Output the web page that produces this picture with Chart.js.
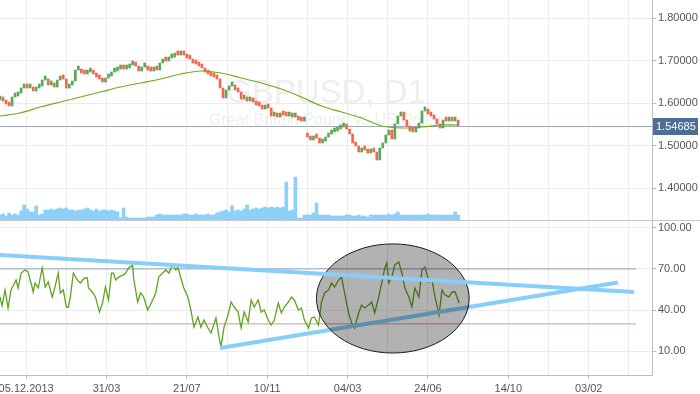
<!DOCTYPE html>
<html><head><meta charset="utf-8">
<script src="https://cdn.jsdelivr.net/npm/chart.js@4/dist/chart.umd.min.js"></script>
<style>
html,body{margin:0;padding:0;background:#fff;width:700px;height:394px;overflow:hidden}
#a{position:absolute;left:0;top:0}
#b{position:absolute;left:0;top:220px}
</style></head><body>
<canvas id="a" width="700" height="220"></canvas>
<canvas id="b" width="700" height="174"></canvas>
<script>
// ---------- data ----------
const symbol = 'GBPUSD, D1';
const description = 'Great Britain Pound vs US Dollar';
const tickDays = [26,106,186,266,346,426,506,586];
const tickLabels = ['05.12.2013','31/03','21/07','10/11','04/03','24/06','14/10','03/02'];
const gridDays = [26,66,106,146,186,226,266,306,346,386,426,466,506,546,586,626];
const priceTicks = [1.4,1.5,1.6,1.7,1.8];
const rsiTicks = [10,40,70,100];
const rsiLevels = [70,30];

// closes, one candle per 3 trading days
const closes = [
1.6071,1.6047,1.5976,1.5929,1.6141,1.6165,1.6235,1.6353,1.6400,1.6353,
1.6376,1.6282,1.6353,1.6400,1.6541,1.6565,1.6424,1.6447,1.6376,1.6541,
1.6635,1.6565,1.6353,1.6424,1.6518,1.6776,1.6800,1.6706,1.6682,1.6729,
1.6753,1.6682,1.6612,1.6565,1.6494,1.6588,1.6635,1.6729,1.6753,1.6800,
1.6824,1.6800,1.6824,1.6894,1.6918,1.6871,1.6753,1.6847,1.6871,1.6776,
1.6753,1.6800,1.6776,1.6941,1.7012,1.6988,1.7059,1.7082,1.7153,1.7129,
1.7153,1.7129,1.7059,1.7035,1.6941,1.6918,1.6871,1.6824,1.6729,1.6682,
1.6635,1.6612,1.6565,1.6353,1.6118,1.6306,1.6400,1.6424,1.6306,1.6259,
1.6094,1.6118,1.6047,1.6071,1.6024,1.5953,1.5929,1.5859,1.5906,1.5882,
1.5694,1.5718,1.5671,1.5741,1.5718,1.5694,1.5741,1.5671,1.5671,1.5600,
1.5576,1.5576,1.5200,1.5129,1.5200,1.5176,1.5059,1.5106,1.5200,1.5271,
1.5318,1.5341,1.5388,1.5435,1.5506,1.5388,1.5271,1.5059,1.4988,1.4847,
1.4918,1.4894,1.4824,1.4894,1.4847,1.4659,1.4941,1.5059,1.5247,1.5365,
1.5153,1.5506,1.5694,1.5788,1.5600,1.5459,1.5341,1.5318,1.5412,1.5529,
1.5812,1.5859,1.5741,1.5694,1.5624,1.5506,1.5412,1.5600,1.5576,1.5624,
1.5576,1.5600,1.54685];
const openOverrides = {102: 1.5224};
const volumes = [
5,6,4,7,5,6,5,9,15,11,8,8,14,5,6,10,10,11,10,11,
12,11,12,10,10,9,10,10,11,12,10,9,11,9,10,10,9,10,9,8,
2,12,3,2,2,2,2,2,2,3,3,3,5,6,5,5,5,5,5,5,
5,6,6,5,5,6,5,5,5,6,5,5,7,8,9,10,8,14,9,10,
9,11,15,10,11,12,11,12,13,12,13,12,13,12,13,38,9,10,43,2,
2,5,5,5,7,17,5,5,5,5,4,4,4,4,4,5,5,4,4,5,
4,4,3,5,5,5,5,5,5,6,5,6,8,5,5,5,5,5,5,5,
5,5,6,5,5,5,5,5,5,5,5,8,5];
const maDays = [0,20,40,60,80,100,120,140,160,180,200,220,240,260,280,300,320,340,360,380,400,420,440,456];
const maValues = [1.5694,1.5765,1.5906,1.6024,1.6141,1.6259,1.6376,1.6471,1.6565,1.6682,1.6753,1.6706,1.6588,1.6471,1.6329,1.6141,1.5929,1.5788,1.5647,1.5459,1.5412,1.5435,1.5482,1.5482];

const rsiDays = [0,2,5,8,11,16,18,21,25,28,30,32,33,35,38,42,45,48,52,54,58,60,63,66,68,70,73,77,80,84,87,88,92,95,99,102,105,108,111,113,115,118,123,125,128,132,133,137,140,143,147,152,155,158,162,165,168,172,175,177,180,183,187,190,193,197,200,203,207,210,212,215,218,220,223,227,230,233,237,240,243,247,250,253,257,260,263,267,270,273,277,280,283,287,290,293,297,300,303,307,310,313,317,320,323,327,330,333,337,340,343,347,350,353,357,360,363,367,370,373,377,380,383,385,387,390,393,397,400,403,407,410,413,417,420,423,427,430,433,437,440,443,447,450,453,457];
const rsiValues = [49.8,43.0,54.7,41.6,54.7,61.9,56.1,67.0,69.2,67.8,61.9,56.8,53.2,59.8,56.1,70.7,56.8,60.5,49.6,54.7,67.0,52.5,54.7,42.3,42.3,49.6,67.0,61.9,59.8,63.4,63.4,56.1,53.2,49.6,38.6,45.2,56.8,47.4,67.0,67.0,61.9,64.1,65.6,67.0,70.7,72.9,63.4,45.9,52.5,49.6,40.1,47.4,52.5,64.1,67.0,69.2,67.0,72.9,69.2,71.4,63.4,56.1,49.6,40.1,27.7,35.0,27.7,32.8,27.0,23.4,27.7,34.3,20.5,13.2,27.7,36.5,45.9,42.3,38.6,27.0,38.6,31.4,47.4,42.3,47.4,38.6,40.1,32.8,29.2,32.8,45.2,37.9,42.3,45.9,49.6,47.4,40.1,41.6,32.8,27.0,34.3,35.0,29.2,45.9,52.5,54.7,59.8,56.8,61.9,64.1,52.5,37.9,30.6,27.0,37.9,43.7,41.6,43.7,45.9,37.9,49.6,59.8,70.7,74.3,59.8,64.1,72.9,75.0,67.0,56.1,49.6,42.3,56.1,49.6,69.2,71.4,60.5,61.9,49.6,36.5,54.7,51.0,49.6,53.2,53.2,45.2];

// drawn objects (in day / RSI units)
const upperTrend = [[0,80.1],[631,53.2]];
const lowerTrend = [[219,12.4],[615,60.1]];
const levelSpan = [0,633];
const ellipseCenter = [391,48.5];
const ellipseRadius = [76,39.7];

// ---------- chart ----------
Chart.defaults.font.family = "'Liberation Sans', Arial, sans-serif";
Chart.defaults.font.size = 11;
Chart.defaults.color = '#555';
const X_MAX = 649;
const GRID = '#ececec';
const AXIS = '#b9bec7';
const UP = '#5aa85a', DOWN = '#f2684f';

const candleDays = closes.map((c,i)=>i*3);
const opens = closes.map((c,i)=> openOverrides[i] !== undefined ? openOverrides[i] : (i===0 ? c : closes[i-1]));
const candleColors = closes.map((c,i)=> c >= opens[i] ? UP : DOWN);
const lastPrice = closes[closes.length-1];

const fixTicks = arr => s => { s.ticks = arr.map(v=>({value:v})); };
const fitY = s => { s.width = 48; s.paddingTop = 0; s.paddingBottom = 0; };

const topPlugin = {
  id:'topDecor',
  beforeDatasetsDraw(chart){
    const {ctx, chartArea:a, scales} = chart;
    ctx.save();
    const cx = (a.left + a.right)/2;
    ctx.fillStyle = '#eeeeee';
    ctx.textAlign = 'center';
    ctx.textBaseline = 'alphabetic';
    ctx.font = "33px 'Liberation Sans', Arial, sans-serif";
    ctx.fillText(symbol, cx, 103);
    ctx.font = "16px 'Liberation Sans', Arial, sans-serif";
    ctx.fillText(description, cx, 125);
    const py = Math.round(scales.y.getPixelForValue(lastPrice)) + 0.5;
    ctx.strokeStyle = '#9ca8b8'; ctx.lineWidth = 1;
    ctx.beginPath(); ctx.moveTo(a.left, py); ctx.lineTo(a.right, py); ctx.stroke();
    ctx.restore();
  },
  afterDraw(chart){
    const {ctx, chartArea:a, scales} = chart;
    const py = Math.round(scales.y.getPixelForValue(lastPrice));
    ctx.save();
    ctx.fillStyle = '#4d6f97';
    ctx.fillRect(a.right+1, py-8, 45, 17);
    ctx.fillStyle = '#ffffff';
    ctx.textAlign = 'left'; ctx.textBaseline = 'middle';
    ctx.font = "11px 'Liberation Sans', Arial, sans-serif";
    ctx.fillText(lastPrice.toFixed(5), a.right+4, py+1);
    ctx.restore();
  }
};

new Chart(document.getElementById('a'), {
  data:{ datasets:[
    {type:'line', data: maDays.map((d,i)=>({x:d, y:maValues[i]})), borderColor:'#70ac1e', borderWidth:1.2, pointRadius:0, tension:0.35, yAxisID:'y'},
    {type:'bar', data: candleDays.map((d,i)=>({x:d, y:[opens[i], closes[i]]})), backgroundColor:candleColors, borderWidth:0, barThickness:2, minBarLength:4, grouped:false, yAxisID:'y'},
    {type:'bar', data: candleDays.map((d,i)=>({x:d, y:volumes[i]})), backgroundColor:'#8dd0f8', borderWidth:0, barThickness:3, grouped:false, yAxisID:'vol'}
  ]},
  options:{
    responsive:false, animation:false, devicePixelRatio:1,
    layout:{padding:0},
    plugins:{legend:{display:false}, tooltip:{enabled:false}},
    scales:{
      x:{type:'linear', min:0, max:X_MAX, position:'bottom', offset:false,
        afterBuildTicks: fixTicks(gridDays),
        ticks:{display:false}, grid:{color:GRID, drawTicks:false, offset:false}, border:{display:false},
        afterFit: s => { s.height = 0; s.paddingLeft = 0; s.paddingRight = 0; }},
      y:{type:'linear', position:'right', min:1.3247, max:1.8424,
        afterBuildTicks: fixTicks(priceTicks),
        ticks:{padding:2, callback: v => Number(v).toFixed(5)},
        grid:{color:GRID, tickLength:4, tickColor:AXIS},
        border:{color:AXIS},
        afterFit: fitY},
      vol:{type:'linear', display:false, position:'left', min:0, max:220}
    }
  },
  plugins:[topPlugin]
});

const bottomPlugin = {
  id:'bottomDecor',
  afterDatasetDraw(chart, args){
    if (args.index !== 1) return;
    const {ctx, scales} = chart;
    const xs = scales.x, ys = scales.y;
    const cx = xs.getPixelForValue(ellipseCenter[0]);
    const cy = ys.getPixelForValue(ellipseCenter[1]);
    const rx = Math.abs(xs.getPixelForValue(ellipseCenter[0]+ellipseRadius[0]) - cx);
    const ry = Math.abs(ys.getPixelForValue(ellipseCenter[1]+ellipseRadius[1]) - cy);
    ctx.save();
    ctx.beginPath(); ctx.ellipse(cx, cy, rx, ry, 0, 0, Math.PI*2);
    ctx.fillStyle = 'rgba(0,0,0,0.3)'; ctx.fill();
    ctx.strokeStyle = '#1a1a1a'; ctx.lineWidth = 1; ctx.stroke();
    ctx.restore();
  },
  afterDraw(chart){
    const {ctx} = chart;
    ctx.save();
    ctx.strokeStyle = '#c4c7cc'; ctx.lineWidth = 1;
    ctx.beginPath(); ctx.moveTo(0, 0.5); ctx.lineTo(chart.width, 0.5); ctx.stroke();
    ctx.restore();
  }
};

const seg = p => p.map(q=>({x:q[0], y:q[1]}));
new Chart(document.getElementById('b'), {
  type:'line',
  data:{ datasets:[
    {data: seg(upperTrend), borderColor:'#87cefa', borderWidth:4, pointRadius:0},
    {data: seg(lowerTrend), borderColor:'#87cefa', borderWidth:4, pointRadius:0},
    {data: rsiDays.map((d,i)=>({x:d, y:rsiValues[i]})), borderColor:'#5ea41f', borderWidth:1.3, pointRadius:0, tension:0},
    {data: levelSpan.map(d=>({x:d, y:rsiLevels[0]})), borderColor:'#8fa2b9', borderWidth:1, pointRadius:0},
    {data: levelSpan.map(d=>({x:d, y:rsiLevels[1]})), borderColor:'#e09393', borderWidth:1, pointRadius:0}
  ]},
  options:{
    responsive:false, animation:false, devicePixelRatio:1,
    layout:{padding:0},
    plugins:{legend:{display:false}, tooltip:{enabled:false}},
    scales:{
      x:{type:'linear', min:0, max:X_MAX, position:'bottom', offset:false,
        afterBuildTicks: fixTicks(gridDays),
        ticks:{autoSkip:false, maxRotation:0, minRotation:0, padding:3,
          callback: v => { const k = tickDays.indexOf(v); return k < 0 ? '' : tickLabels[k]; }},
        grid:{color:GRID, tickLength:4, tickColor: c => (c.tick && tickDays.includes(c.tick.value)) ? AXIS : 'rgba(0,0,0,0)'},
        border:{color:AXIS},
        afterFit: s => { s.height = 19; s.paddingLeft = 0; s.paddingRight = 0; }},
      y:{type:'linear', position:'right', min:-7.2, max:105.6,
        afterBuildTicks: fixTicks(rsiTicks),
        ticks:{padding:2, callback: v => Number(v).toFixed(2)},
        grid:{color:GRID, tickLength:4, tickColor:AXIS},
        border:{color:AXIS},
        afterFit: fitY}
    }
  },
  plugins:[bottomPlugin]
});
</script>
</body></html>
